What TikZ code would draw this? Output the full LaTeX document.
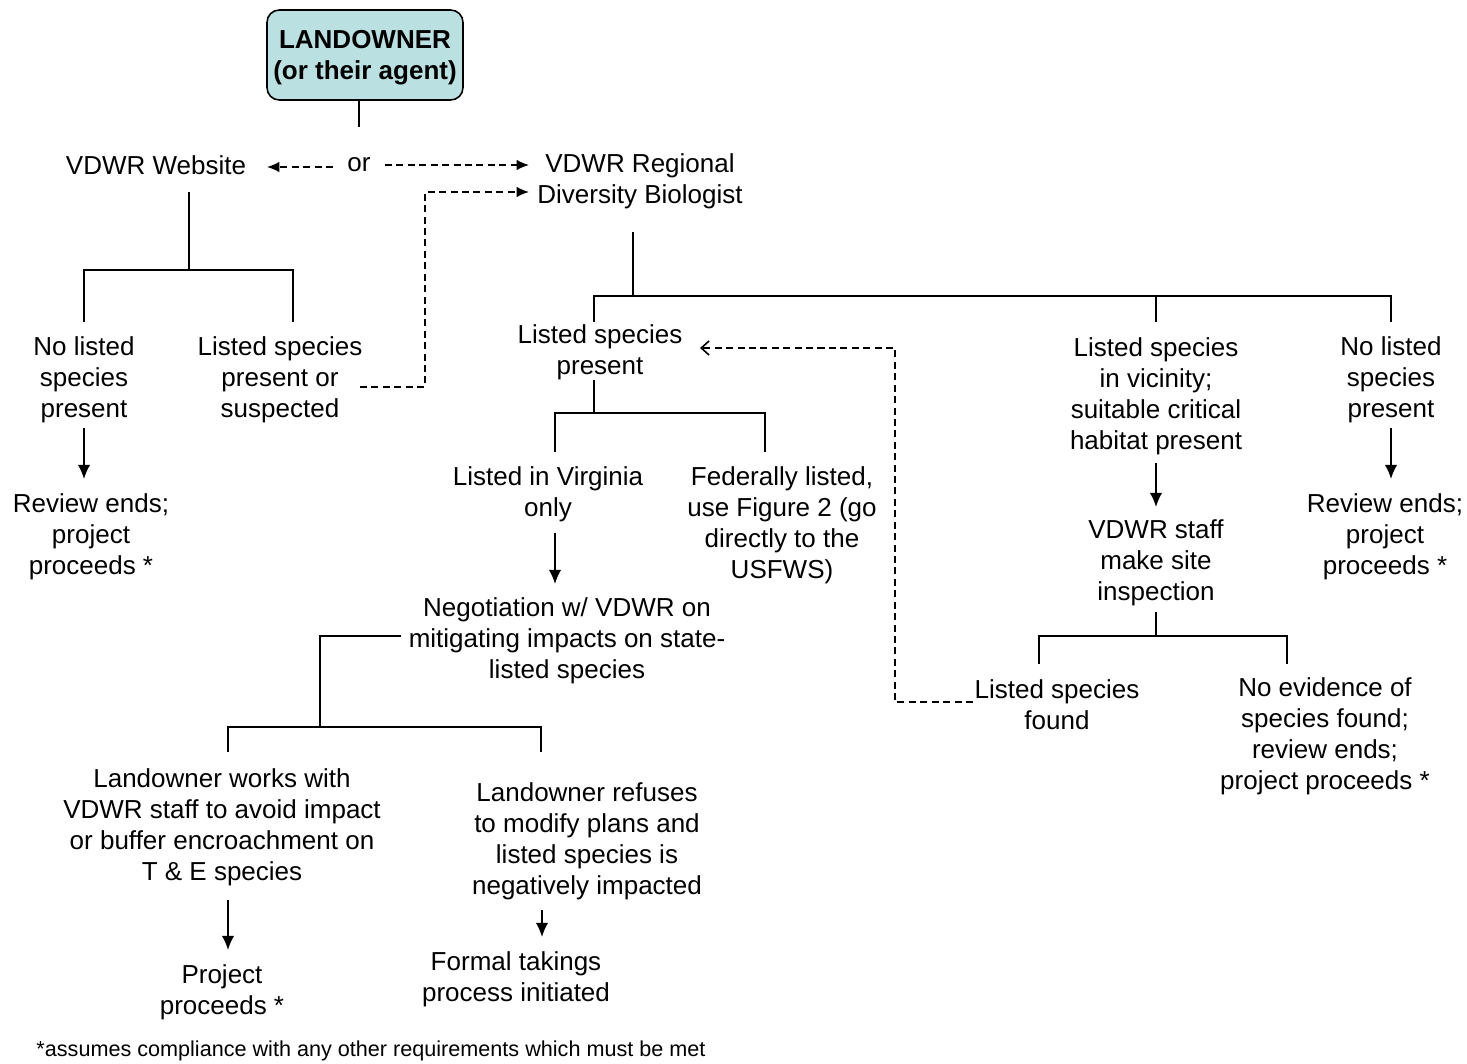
\documentclass[tikz,border=0pt]{standalone}
\usepackage{fontspec}
\setmainfont{Liberation Sans}
\usetikzlibrary{arrows.meta}
\definecolor{boxcol}{RGB}{186,224,226}
\begin{document}
\begin{tikzpicture}[x=0.02cm,y=-0.02cm,
  txt/.style={align=center,inner sep=0pt,font=\fontsize{14.8pt}{17.6pt}\selectfont},
  ln/.style={line width=0.9pt},
  arr/.style={ln,-{Latex[length=8pt,width=7pt]}},
  dsh/.style={ln,dash pattern=on 4pt off 2.5pt},
  darr/.style={dsh,-{Latex[length=7pt,width=6pt]}},
  dbarb/.style={dsh,-{Straight Barb[length=4.5pt,width=8pt]}},
  landbox/.style={draw,line width=0.9pt,rounded corners=7pt,fill=boxcol,
    minimum width=3.92cm,minimum height=1.8cm,inner sep=0pt}]
\useasboundingbox (0,0) rectangle (1467,1064);

% nodes
\node[landbox] (land) at (365,55) {};
\node[align=center,inner sep=0pt,font=\bfseries\fontsize{14.8pt}{17.6pt}\selectfont]
  (landtxt) at (365,58) {LANDOWNER\\(or their agent)};
\node[txt] (web) at (156,165) {VDWR Website};
\node[txt] (or) at (359,165) {or};
\node[txt] (bio) at (640,181) {VDWR Regional\\Diversity Biologist};
\node[txt] (nol1) at (84,380) {No listed\\species\\present};
\node[txt] (lsps) at (280,380) {Listed species\\present or\\suspected};
\node[txt] (rev1) at (91,537) {Review ends;\\project\\proceeds *};
\node[txt] (lsp) at (600,352) {Listed species\\present};
\node[txt] (lva) at (548,494) {Listed in Virginia\\only};
\node[txt] (fed) at (782,525) {Federally listed,\\use Figure 2 (go\\directly to the\\USFWS)};
\node[txt] (neg) at (567,641) {Negotiation w/ VDWR on\\mitigating impacts on state-\\listed species};
\node[txt] (work) at (222,827) {Landowner works with\\VDWR staff to avoid impact\\or buffer encroachment on\\T \& E species};
\node[txt] (refu) at (587,841) {Landowner refuses\\to modify plans and\\listed species is\\negatively impacted};
\node[txt] (proj) at (222,992) {Project\\proceeds *};
\node[txt] (formal) at (516,979) {Formal takings\\process initiated};
\node[txt] (vic) at (1156,396) {Listed species\\in vicinity;\\suitable critical\\habitat present};
\node[txt] (staff) at (1156,563) {VDWR staff\\make site\\inspection};
\node[txt] (found) at (1057,705) {Listed species\\found};
\node[txt] (noev) at (1325,736) {No evidence of\\species found;\\review ends;\\project proceeds *};
\node[txt] (nol2) at (1391,380) {No listed\\species\\present};
\node[txt] (rev2) at (1385,537) {Review ends;\\project\\proceeds *};
\node[align=center,inner sep=0pt,font=\fontsize{12.3pt}{14pt}\selectfont] (foot) at (371,1051)
  {*assumes compliance with any other requirements which must be met};

% coordinates
\coordinate (a0) at (359,100);
\coordinate (a1) at (359,127);
\coordinate (w0) at (189,192);
\coordinate (w1) at (189,270);
\coordinate (wl) at (84,270);
\coordinate (wr) at (293,270);
\coordinate (wl2) at (84,322);
\coordinate (wr2) at (293,322);
\coordinate (n1a) at (84,428);
\coordinate (n1b) at (84,479);
\coordinate (b0) at (633,232);
\coordinate (b1) at (633,296);
\coordinate (bl) at (594,296);
\coordinate (bm) at (1156,296);
\coordinate (br) at (1391,296);
\coordinate (bl2) at (594,322);
\coordinate (bm2) at (1156,322);
\coordinate (br2) at (1391,322);
\coordinate (p0) at (594,380);
\coordinate (p1) at (594,413);
\coordinate (pl) at (555,413);
\coordinate (pr) at (765,413);
\coordinate (pl2) at (555,452);
\coordinate (pr2) at (765,452);
\coordinate (v0) at (555,533);
\coordinate (v1) at (555,584);
\coordinate (g0) at (401,636);
\coordinate (g1) at (320,636);
\coordinate (g2) at (320,727);
\coordinate (gl) at (228,727);
\coordinate (gr) at (541,727);
\coordinate (gl2) at (228,752);
\coordinate (gr2) at (541,752);
\coordinate (k0) at (228,900);
\coordinate (k1) at (228,950);
\coordinate (r0) at (542,910);
\coordinate (r1) at (542,937);
\coordinate (s0) at (1156,463);
\coordinate (s1) at (1156,507);
\coordinate (t0) at (1156,612);
\coordinate (t1) at (1156,636);
\coordinate (tl) at (1039,636);
\coordinate (tr) at (1287,636);
\coordinate (tl2) at (1039,664);
\coordinate (tr2) at (1287,664);
\coordinate (q0) at (1391,428);
\coordinate (q1) at (1391,479);
% dashed
\coordinate (d1a) at (333,167);
\coordinate (d1b) at (267,167);
\coordinate (d2a) at (385,165);
\coordinate (d2b) at (529,165);
\coordinate (d3a) at (360,387);
\coordinate (d3b) at (425,387);
\coordinate (d3c) at (425,192);
\coordinate (d3d) at (529,192);
\coordinate (d4a) at (973,702);
\coordinate (d4b) at (895,702);
\coordinate (d4c) at (895,348);
\coordinate (d4d) at (700,348);

% solid connectors
\draw[ln] (a0) -- (a1);
\draw[ln] (w0) -- (w1);
\draw[ln] (wl2) -- (wl) -- (wr) -- (wr2);
\draw[arr] (n1a) -- (n1b);
\draw[ln] (b0) -- (b1);
\draw[ln] (bl2) -- (bl) -- (br) -- (br2);
\draw[ln] (bm) -- (bm2);
\draw[ln] (p0) -- (p1);
\draw[ln] (pl2) -- (pl) -- (pr) -- (pr2);
\draw[arr] (v0) -- (v1);
\draw[ln] (g0) -- (g1) -- (g2);
\draw[ln] (gl2) -- (gl) -- (gr) -- (gr2);
\draw[arr] (k0) -- (k1);
\draw[arr] (r0) -- (r1);
\draw[arr] (s0) -- (s1);
\draw[ln] (t0) -- (t1);
\draw[ln] (tl2) -- (tl) -- (tr) -- (tr2);
\draw[arr] (q0) -- (q1);

% dashed connectors
\draw[darr] (d1a) -- (d1b);
\draw[darr] (d2a) -- (d2b);
\draw[darr] (d3a) -- (d3b) -- (d3c) -- (d3d);
\draw[dbarb] (d4a) -- (d4b) -- (d4c) -- (d4d);
\end{tikzpicture}
\end{document}
